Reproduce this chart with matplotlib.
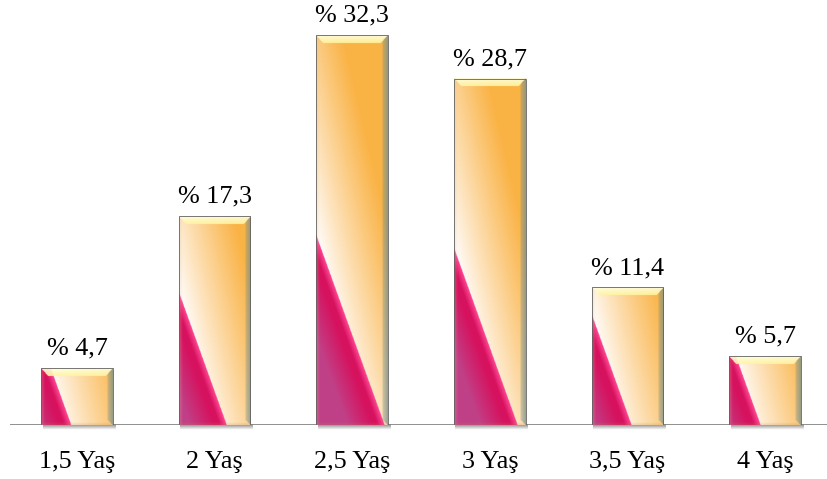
import numpy as np
import matplotlib
matplotlib.use("Agg")
import matplotlib.pyplot as plt
from matplotlib.patches import Rectangle

categories = ["1,5 Yaş", "2 Yaş", "2,5 Yaş", "3 Yaş", "3,5 Yaş", "4 Yaş"]
values = [4.7, 17.3, 32.3, 28.7, 11.4, 5.7]
labels = ["% 4,7", "% 17,3", "% 32,3", "% 28,7", "% 11,4", "% 5,7"]

plt.rcParams['font.family'] = ['Liberation Serif', 'DejaVu Serif']

W, H, DPI = 827, 479, 100
fig = plt.figure(figsize=(W / DPI, H / DPI), dpi=DPI)
base_px = 425
ymax = 35.0
px_per_unit = 12.07
ax_h = ymax * px_per_unit
ax = fig.add_axes([10 / W, (H - base_px) / H, (W - 10) / W, ax_h / H])
ax.set_xlim(-0.487, 5.45)
ax.set_ylim(0, ymax)
for s in ax.spines.values():
    s.set_visible(False)

bar_w = 0.52
unit_px = (W - 10) / (5.45 + 0.487)
Wpx = bar_w * unit_px

orange = np.array([0.98, 0.70, 0.27])
white = np.array([1.0, 0.98, 0.96])
pink = np.array([0.84, 0.07, 0.37])
bright = np.array([1.0, 0.28, 0.58])
purple = np.array([0.72, 0.33, 0.60])
yellow = np.array([1.0, 0.96, 0.62])
hilite = np.array([1.0, 1.0, 0.90])
edge_gray = np.array([0.45, 0.56, 0.55])

for i, v in enumerate(values):
    Hpx = v * px_per_unit
    nh, nw = max(int(round(Hpx)) * 2, 4), int(round(Wpx)) * 2
    yy, xx = np.mgrid[0:nh, 0:nw].astype(float)
    yy = (yy + 0.5) / 2
    xx = (xx + 0.5) / 2
    nh2, nw2 = nh / 2, nw / 2
    u = xx / nw2
    x0 = 0.33 + 0.0016 * Hpx
    ub = x0 - yy / 200.0
    d = (u - ub) * nw2
    # orange side
    t = np.clip((d - 4) / (1.5 * nw2) + 0.35 * u, 0, 1) ** 0.9
    oside = white[None, None, :] * (1 - t[..., None]) + orange[None, None, :] * t[..., None]
    # pink side
    s = np.clip(-d / 7.0, 0, 1)
    pside = bright[None, None, :] * (1 - s[..., None]) + pink[None, None, :] * s[..., None]
    p = np.clip((-d - 12) / 25.0, 0, 1) * 0.7
    pside = pside * (1 - p[..., None]) + purple[None, None, :] * p[..., None]
    mask = (d >= 0)[..., None]
    img = np.where(mask, oside, pside)
    bev = 8.0
    # right edge bevel
    rd = nw2 - xx
    r = ((rd < 5.5) & (yy > rd * 0.9) & (nh2 - yy > rd * 0.9))[..., None] * np.clip(0.75 - rd / 12, 0, 1)[..., None]
    img = img * (1 - r) + edge_gray[None, None, :] * r
    # left edge
    l = np.clip(1 - xx / 4.0, 0, 1)[..., None] * 0.3
    img = img * (1 - l) + np.array([0.85, 0.75, 0.6])[None, None, :] * l
    # top bevel
    top_dist = nh2 - yy
    inside = (top_dist < bev) & (xx > top_dist * 0.9) & (nw2 - xx > top_dist * 0.9)
    grad = np.clip(top_dist / bev, 0, 1)[..., None]
    bcol = hilite[None, None, :] * (1 - grad) + yellow[None, None, :] * grad
    bmask = inside[..., None] * 0.9
    img = img * (1 - bmask) + bcol * bmask
    # bottom bevel slight
    bb = np.clip(1 - yy / 3.0, 0, 1)[..., None] * 0.25
    img = img * (1 - bb) + np.array([0.7, 0.55, 0.35])[None, None, :] * bb
    img = np.clip(img, 0, 1)
    ax.imshow(img, origin='lower', extent=[i - bar_w / 2, i + bar_w / 2, 0, v],
              aspect='auto', interpolation='antialiased', zorder=2)
    ax.add_patch(Rectangle((i - bar_w / 2, 0), bar_w, v, fill=False,
                           ec=(0.38, 0.38, 0.38), lw=0.6, zorder=3))
    # shadow below baseline
    sh = np.linspace(0.55, 1.0, 8)[:, None] * np.ones((1, 10))
    ax.imshow(np.dstack([sh, sh, sh]), origin='upper',
              extent=[i - bar_w / 2 + 0.01, i + bar_w / 2 + 0.02, -0.45, 0],
              aspect='auto', interpolation='bilinear', zorder=1, clip_on=False)
    ax.annotate(labels[i], (i, v), xytext=(0, 6), textcoords='offset points',
                ha='center', va='bottom', fontsize=18.8, color='black', zorder=4)

ax.axhline(0, color=(0.53, 0.53, 0.53), lw=1.3, zorder=1.5)
ax.set_xticks(range(len(categories)))
ax.set_xticklabels(categories, fontsize=18.8)
ax.tick_params(axis='x', length=0, pad=19)
ax.set_yticks([])
ax.set_ylim(0, ymax)
ax.set_xlim(-0.487, 5.45)

fig.savefig("out.png", dpi=DPI)
